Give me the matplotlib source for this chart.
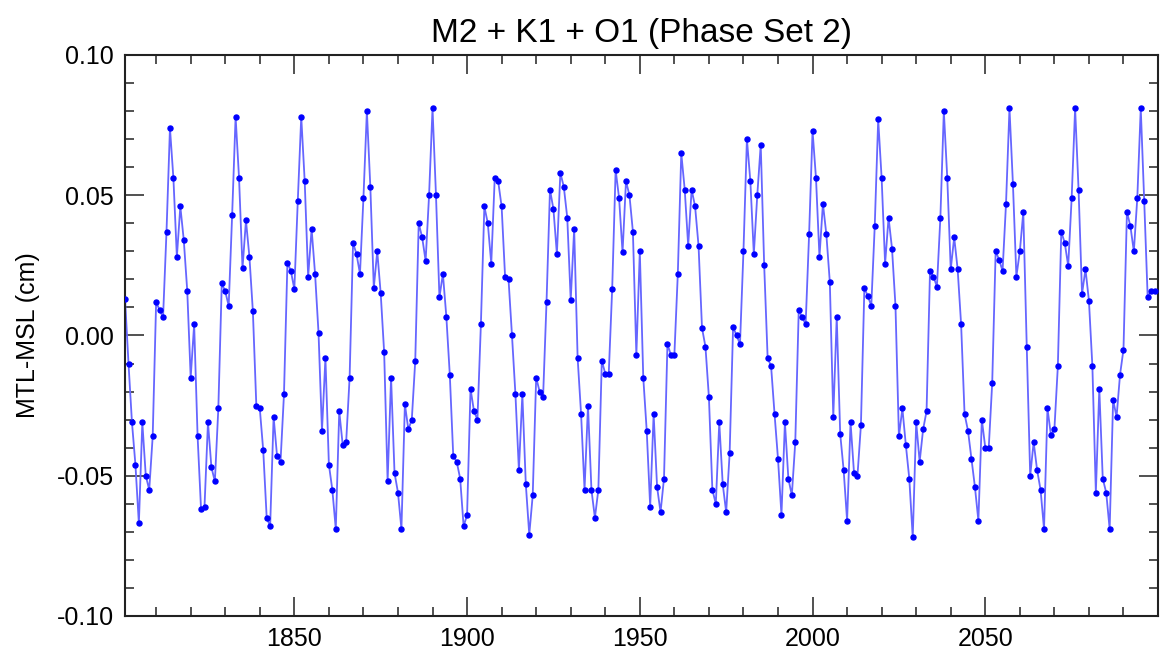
import numpy as np
import matplotlib
matplotlib.use("Agg")
import matplotlib.pyplot as plt
from matplotlib.ticker import MultipleLocator, FixedLocator

# annual MTL-MSL values, starting 1801
first_year = 1801
mtl_msl = [
    0.013, -0.010, -0.031, -0.046, -0.067, -0.031, -0.050, -0.055, -0.036, 0.012,
    0.009, 0.0065, 0.037, 0.074, 0.056, 0.028, 0.046, 0.034, 0.016, -0.015,
    0.004, -0.036, -0.062, -0.061, -0.031, -0.047, -0.052, -0.026, 0.0186, 0.0157,
    0.0106, 0.043, 0.078, 0.056, 0.024, 0.041, 0.028, 0.0086, -0.025, -0.026,
    -0.041, -0.065, -0.068, -0.029, -0.043, -0.045, -0.021, 0.026, 0.023, 0.0165,
    0.048, 0.078, 0.055, 0.021, 0.038, 0.022, 0.001, -0.034, -0.008, -0.046,
    -0.055, -0.069, -0.027, -0.039, -0.038, -0.015, 0.033, 0.029, 0.022, 0.049,
    0.080, 0.053, 0.017, 0.030, 0.015, -0.006, -0.052, -0.015, -0.049, -0.056,
    -0.069, -0.0245, -0.0335, -0.030, -0.009, 0.040, 0.035, 0.0266, 0.050, 0.081,
    0.050, 0.0136, 0.022, 0.0067, -0.014, -0.043, -0.045, -0.051, -0.068, -0.064,
    -0.019, -0.027, -0.030, 0.004, 0.046, 0.040, 0.0256, 0.056, 0.055, 0.046,
    0.021, 0.020, 0.000, -0.021, -0.048, -0.021, -0.053, -0.071, -0.057, -0.015,
    -0.020, -0.022, 0.012, 0.052, 0.045, 0.029, 0.058, 0.053, 0.042, 0.0126,
    0.038, -0.008, -0.028, -0.055, -0.025, -0.055, -0.065, -0.055, -0.009, -0.0136,
    -0.0138, 0.0165, 0.059, 0.049, 0.0296, 0.055, 0.050, 0.037, -0.007, 0.030,
    -0.015, -0.034, -0.061, -0.028, -0.054, -0.063, -0.051, -0.003, -0.007, -0.007,
    0.022, 0.065, 0.052, 0.032, 0.052, 0.046, 0.032, 0.0027, -0.004, -0.022,
    -0.055, -0.060, -0.031, -0.053, -0.063, -0.042, 0.003, 0.000, -0.003, 0.030,
    0.070, 0.055, 0.029, 0.050, 0.068, 0.025, -0.008, -0.011, -0.028, -0.044,
    -0.064, -0.031, -0.051, -0.057, -0.038, 0.009, 0.0065, 0.004, 0.036, 0.073,
    0.056, 0.028, 0.047, 0.036, 0.019, -0.029, 0.0067, -0.035, -0.048, -0.066,
    -0.031, -0.049, -0.050, -0.032, 0.017, 0.014, 0.0106, 0.039, 0.077, 0.056,
    0.0256, 0.042, 0.031, 0.0106, -0.036, -0.026, -0.039, -0.051, -0.072, -0.031,
    -0.045, -0.0335, -0.027, 0.023, 0.021, 0.0174, 0.042, 0.080, 0.056, 0.0236,
    0.035, 0.0236, 0.004, -0.028, -0.034, -0.044, -0.054, -0.066, -0.030, -0.040,
    -0.040, -0.017, 0.030, 0.027, 0.023, 0.047, 0.081, 0.054, 0.021, 0.030,
    0.044, -0.004, -0.050, -0.038, -0.048, -0.055, -0.069, -0.026, -0.0355, -0.0335,
    -0.011, 0.037, 0.033, 0.0248, 0.049, 0.081, 0.052, 0.0148, 0.0236, 0.0124,
    -0.011, -0.056, -0.019, -0.051, -0.056, -0.069, -0.023, -0.029, -0.014, -0.005,
    0.044, 0.039, 0.030, 0.049, 0.081, 0.048, 0.0136, 0.016, 0.016,
]
years = np.arange(first_year, first_year + len(mtl_msl))

major_years = [1850, 1900, 1950, 2000, 2050]
y_ticks = [-0.10, -0.05, 0.00, 0.05, 0.10]

plt.rcParams['font.family'] = ['Liberation Sans', 'DejaVu Sans']

fig = plt.figure(figsize=(11.6, 6.6), dpi=100)
ax = fig.add_axes([0.1078, 0.0667, 0.8905, 0.85])

ax.plot(years, mtl_msl, color=(0.4, 0.4, 1.0), linewidth=1.3, zorder=2)
ax.plot(years, mtl_msl, linestyle='none', marker='o', markersize=3.6,
        color='#0000ff', zorder=3)

ax.set_xlim(1801, 2100)
ax.set_ylim(-0.10, 0.10)
ax.xaxis.set_major_locator(FixedLocator(major_years))
ax.xaxis.set_minor_locator(FixedLocator([y for y in range(1810, 2100, 10) if y % 50]))
ax.yaxis.set_major_locator(FixedLocator(y_ticks))
ax.yaxis.set_minor_locator(MultipleLocator(0.01))
ax.set_yticklabels([f'{v:.2f}' for v in y_ticks])

ax.tick_params(which='both', direction='in', top=True, right=True, width=1.2, color='#333333')
ax.tick_params(which='major', length=14, labelsize=18, pad=8)
ax.tick_params(which='minor', length=6.5)
for spine in ax.spines.values():
    spine.set_linewidth(1.5)
    spine.set_color('#222222')

ax.set_title('M2 + K1 + O1 (Phase Set 2)', fontsize=24, pad=9)
ax.set_ylabel('MTL-MSL (cm)', fontsize=18, labelpad=12)

fig.savefig('out.png', dpi=100)
